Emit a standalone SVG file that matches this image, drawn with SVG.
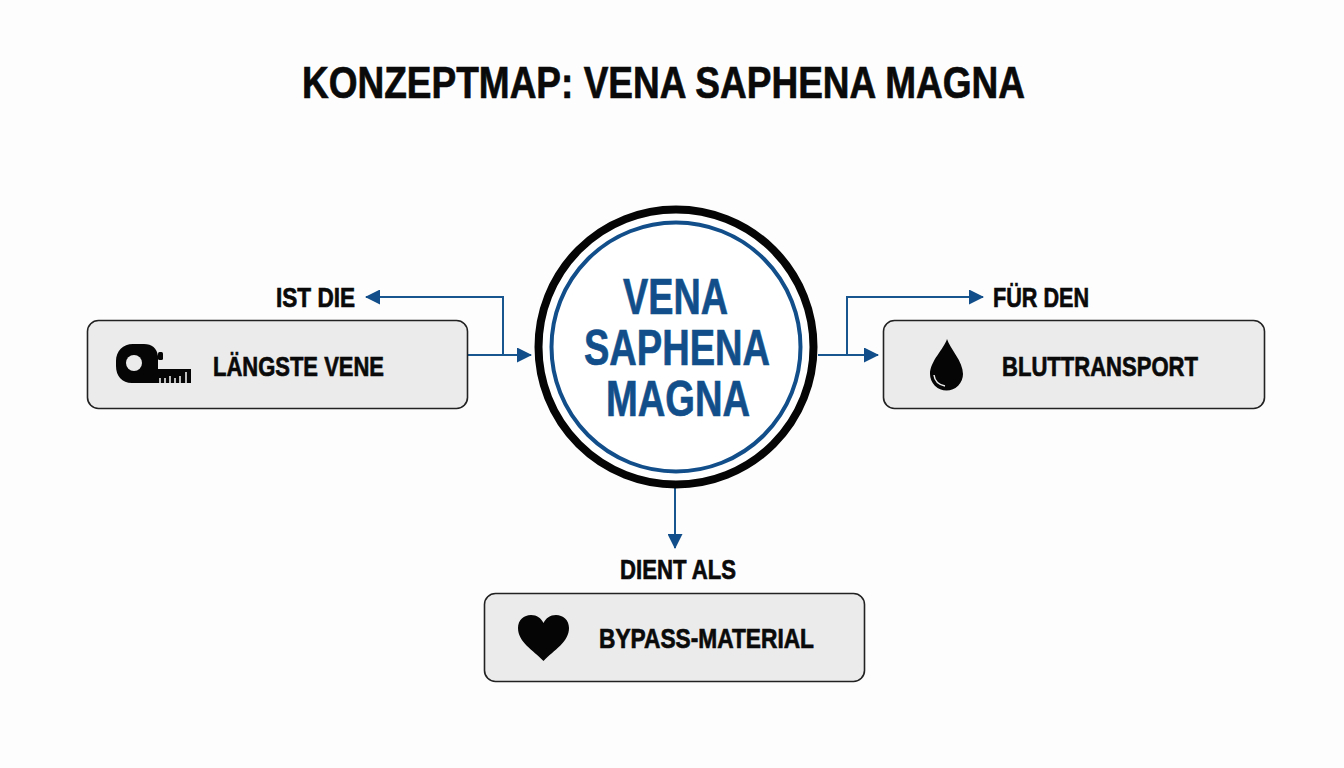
<svg xmlns="http://www.w3.org/2000/svg" width="1344" height="768" viewBox="0 0 1344 768">
<style>
text{font-family:"Liberation Sans",Arial,sans-serif;font-weight:700;fill:#0a0a0a;stroke:#0a0a0a;stroke-width:.7}
.t{font-size:45px}.l{font-size:28.500px}
.c{font-size:50px;fill:#124f8a;stroke:#124f8a}
.box{fill:#ebebeb;stroke:#222;stroke-width:1.6}
.con{fill:none;stroke:#17568f;stroke-width:2}
.ic{fill:#050505}
</style>
<defs>
<marker id="a" markerUnits="userSpaceOnUse" markerWidth="15" markerHeight="15" refX="14" refY="7.500" orient="auto"><path d="M0 0L15 7.500L0 15Z" fill="#124f8a"/></marker>
</defs>
<rect width="1344" height="768" fill="#fdfdfd"/>
<text id="title" class="t" x="302" y="98" textLength="723" lengthAdjust="spacingAndGlyphs">KONZEPTMAP: VENA SAPHENA MAGNA</text>
<g id="connectors">
<path class="con" marker-end="url(#a)" d="M468 355H531"/>
<path class="con" marker-end="url(#a)" d="M503 355V297H366"/>
<path class="con" marker-end="url(#a)" d="M818 355H878"/>
<path class="con" marker-end="url(#a)" d="M847 355V297H983"/>
<path class="con" marker-end="url(#a)" d="M675 487V548"/>
</g>
<g id="center">
<circle cx="676" cy="347" r="137.500" fill="#fff" stroke="#050505" stroke-width="8"/>
<circle cx="676" cy="347" r="124.500" fill="none" stroke="#124f8a" stroke-width="4"/>
<text class="c" x="623" y="314" textLength="105" lengthAdjust="spacingAndGlyphs">VENA</text>
<text class="c" x="584" y="365" textLength="186" lengthAdjust="spacingAndGlyphs">SAPHENA</text>
<text class="c" x="606" y="416" textLength="144" lengthAdjust="spacingAndGlyphs">MAGNA</text>
</g>
<g id="node-laengste">
<text class="l" x="276" y="307" textLength="79" lengthAdjust="spacingAndGlyphs">IST DIE</text>
<rect class="box" x="87.500" y="320.500" width="380" height="88" rx="11"/>
<path class="ic" d="M133 344H144Q156 344 158 356V369H191V383H132C122 383 116 376 116 366V361C116 351 123 344 133 344Z"/>
<circle cx="134" cy="363" r="8" fill="#ebebeb"/>
<rect class="ic" x="158" y="352" width="5" height="8" rx="1.500"/>
<path d="M160 383V378M165 383V378M170 383V376M175 383V378M180 383V376M186 383V372" stroke="#ebebeb" stroke-width="1.600"/>
<text class="l" x="213" y="375.500" textLength="171" lengthAdjust="spacingAndGlyphs">LÄNGSTE VENE</text>
</g>
<g id="node-bluttransport">
<text class="l" x="993" y="307" textLength="96" lengthAdjust="spacingAndGlyphs">FÜR DEN</text>
<rect class="box" x="883.500" y="320.500" width="381" height="88" rx="11"/>
<path class="ic" d="M947 339C950 349 963 361 963 374A16.500 16.500 0 0 1 930 374C930 361 944 349 947 339Z"/>
<path d="M934 375Q935 384 945 386" fill="none" stroke="#ebebeb" stroke-width="1.500"/>
<text class="l" x="1002" y="375.500" textLength="196" lengthAdjust="spacingAndGlyphs">BLUTTRANSPORT</text>
</g>
<g id="node-bypass">
<text class="l" x="620" y="579" textLength="116" lengthAdjust="spacingAndGlyphs">DIENT ALS</text>
<rect class="box" x="484.500" y="593.500" width="380" height="88" rx="11"/>
<path class="ic" d="M543.500 661C533 650 518 642 518 628C518 620 524 615 531 615C537 615 541 618 543.500 623C546 618 550 615 556 615C563 615 569 620 569 628C569 642 554 650 543.500 661Z"/>
<text class="l" x="599" y="648" textLength="215" lengthAdjust="spacingAndGlyphs">BYPASS-MATERIAL</text>
</g>
</svg>
